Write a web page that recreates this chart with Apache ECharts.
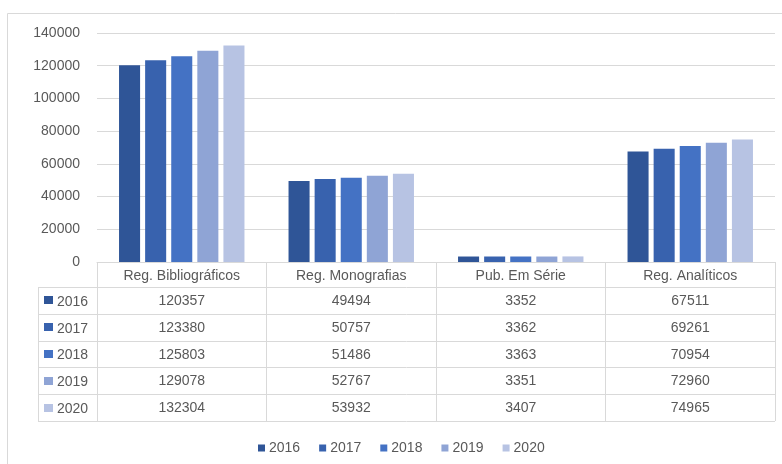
<!DOCTYPE html>
<html>
<head>
<meta charset="utf-8">
<script src="https://cdn.jsdelivr.net/npm/echarts@6/dist/echarts.min.js"></script>
<style>
  html, body { margin: 0; padding: 0; background: #fff; }
  #main { width: 782px; height: 464px; }
</style>
</head>
<body>
<div id="main"></div>
<script>
// dados
const categorias = ['Reg. Bibliográficos', 'Reg. Monografias', 'Pub. Em Série', 'Reg. Analíticos'];
const anos = ['2016', '2017', '2018', '2019', '2020'];
const v2016 = [120357, 49494, 3352, 67511];
const v2017 = [123380, 50757, 3362, 69261];
const v2018 = [125803, 51486, 3363, 70954];
const v2019 = [129078, 52767, 3351, 72960];
const v2020 = [132304, 53932, 3407, 74965];
const valores = [v2016, v2017, v2018, v2019, v2020];
const yTicks = [0, 20000, 40000, 60000, 80000, 100000, 120000, 140000];

const cores = ['#2F5597', '#3862AE', '#4472C4', '#8FA4D5', '#B7C3E3'];
const cinza = '#595959';
const linha = '#D9D9D9';
const fonte = '"Liberation Sans", Arial, sans-serif';

// layout da tabela
const gridLeft = 97, gridRight = 775, eixoY = 262;
const tabLeft = 38;
const linhasY = [287, 313.8, 340.6, 367.4, 394.2, 421];

let myChart = echarts.init(document.getElementById('main'));

let eixosTabela = valores.map((vals, i) => ({
  type: 'category',
  gridIndex: 0,
  position: 'bottom',
  offset: Math.round(25 + 26.8 * i),
  data: vals.map(v => String(v)),
  axisLine: { show: false },
  axisTick: { show: false },
  splitLine: { show: false },
  axisLabel: { color: cinza, fontSize: 14, fontFamily: fonte, margin: 7, interval: 0 }
}));

let graficos = [
  {
    type: 'rect', silent: true,
    shape: { x: 7.5, y: 13.5, width: 800, height: 500 },
    style: { fill: null, stroke: linha, lineWidth: 1 }
  },
  {
    type: 'line', silent: true,
    shape: { x1: tabLeft + 0.5, y1: linhasY[0], x2: tabLeft + 0.5, y2: linhasY[5] },
    style: { stroke: linha, lineWidth: 1 }
  }
];
linhasY.forEach(y => {
  graficos.push({
    type: 'line', silent: true,
    shape: { x1: tabLeft, y1: Math.round(y) + 0.5, x2: gridRight, y2: Math.round(y) + 0.5 },
    style: { stroke: linha, lineWidth: 1 }
  });
});
anos.forEach((ano, i) => {
  let cy = (linhasY[i] + linhasY[i + 1]) / 2;
  graficos.push({
    type: 'rect', silent: true,
    shape: { x: 44, y: Math.round(cy - 4), width: 9, height: 8 },
    style: { fill: cores[i] }
  });
  graficos.push({
    type: 'text', silent: true,
    x: 57, y: cy + 1.5,
    style: { text: ano, fill: cinza, font: '14px ' + fonte, verticalAlign: 'middle' }
  });
});

let series = anos.map((ano, i) => ({
  name: ano,
  type: 'bar',
  xAxisIndex: 0,
  barGap: '24%',
  barCategoryGap: '26%',
  itemStyle: { color: cores[i] },
  data: valores[i]
}));

let option = {
  animation: false,
  textStyle: { fontFamily: fonte },
  grid: { left: gridLeft, right: 782 - gridRight, top: 33, bottom: 464 - eixoY, containLabel: false },
  legend: {
    data: anos,
    left: 253,
    top: 436,
    itemWidth: 7,
    itemHeight: 7,
    itemGap: 19,
    icon: 'rect',
    textStyle: { color: cinza, fontSize: 14, fontFamily: fonte, padding: [0, 0, 0, -1] }
  },
  xAxis: [
    {
      type: 'category',
      data: categorias,
      axisLine: { lineStyle: { color: linha } },
      axisTick: { show: true, length: linhasY[5] - eixoY, lineStyle: { color: linha } },
      axisLabel: { color: cinza, fontSize: 14, fontFamily: fonte, margin: 7, interval: 0 }
    }
  ].concat(eixosTabela),
  yAxis: {
    type: 'value',
    min: yTicks[0],
    max: yTicks[yTicks.length - 1],
    interval: yTicks[1] - yTicks[0],
    axisLine: { show: false },
    axisTick: { show: false },
    axisLabel: { color: cinza, fontSize: 14, fontFamily: fonte, margin: 17, formatter: v => String(v) },
    splitLine: { lineStyle: { color: linha } }
  },
  graphic: graficos,
  series: series
};

myChart.setOption(option);
</script>
</body>
</html>
